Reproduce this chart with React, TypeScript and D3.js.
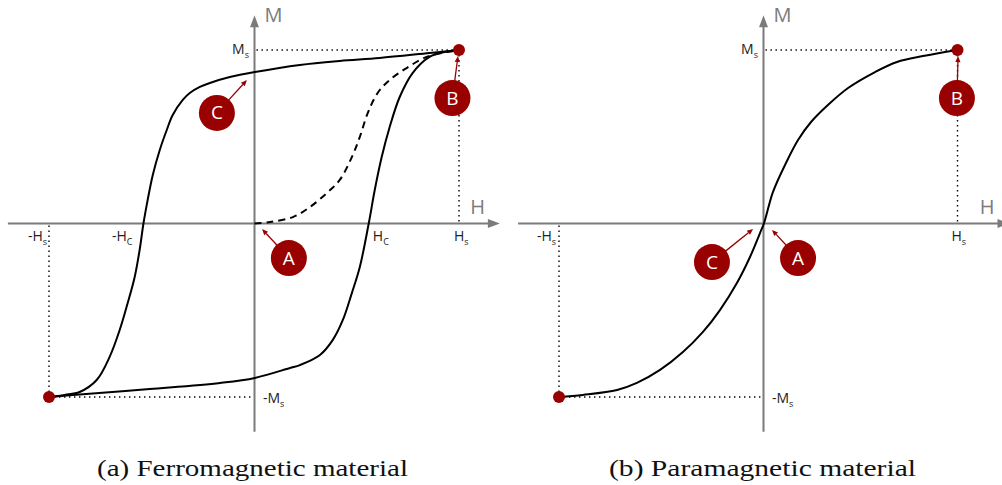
import React from "react";
import * as d3 from "d3";

// All curves in normalised units: h = H / Hs, m = M / Ms
type Pt = [number, number];

// Ferromagnetic hysteresis loop: descending branch (from +Hs to -Hs)
const ferroDescending: Pt[] = [
  [1, 1], [0.856, 0.983], [0.612, 0.954], [0.417, 0.937], [0.222, 0.914],
  [0.002, 0.873], [-0.12, 0.844], [-0.217, 0.81], [-0.266, 0.787],
  [-0.315, 0.752], [-0.349, 0.712], [-0.398, 0.625], [-0.427, 0.539],
  [-0.461, 0.424], [-0.495, 0.28], [-0.52, 0.135], [-0.54, 0.003],
  [-0.559, -0.153], [-0.583, -0.308], [-0.617, -0.458], [-0.656, -0.614],
  [-0.705, -0.769], [-0.768, -0.902], [-0.851, -0.971], [-0.924, -0.988],
  [-1, -1],
];

// Ascending branch (from -Hs to +Hs)
const ferroAscending: Pt[] = [
  [-1, -1], [-0.851, -0.986], [-0.51, -0.954], [-0.168, -0.919],
  [0.002, -0.89], [0.173, -0.833], [0.222, -0.816], [0.32, -0.758],
  [0.383, -0.671], [0.432, -0.556], [0.476, -0.401], [0.515, -0.251],
  [0.559, 0.003], [0.588, 0.193], [0.622, 0.383], [0.661, 0.556],
  [0.71, 0.729], [0.773, 0.867], [0.856, 0.96], [0.929, 0.988], [1, 1],
];

// Initial magnetisation curve from the demagnetised state
const ferroInitial: Pt[] = [
  [0, 0], [0.076, 0.009], [0.188, 0.037], [0.271, 0.095], [0.354, 0.176],
  [0.417, 0.251], [0.476, 0.383], [0.515, 0.499], [0.554, 0.637],
  [0.602, 0.752], [0.661, 0.827], [0.744, 0.896], [0.841, 0.96],
  [0.939, 0.988], [1, 1],
];

// Paramagnetic response (no hysteresis)
const paraCurve: Pt[] = [
  [-1, -1], [-0.883, -0.988], [-0.716, -0.96], [-0.619, -0.919],
  [-0.506, -0.844], [-0.394, -0.741], [-0.296, -0.625], [-0.213, -0.499],
  [-0.13, -0.343], [-0.066, -0.193], [-0.017, -0.055], [0.003, 0.003],
  [0.049, 0.182], [0.116, 0.349], [0.178, 0.481], [0.245, 0.585],
  [0.332, 0.683], [0.436, 0.781], [0.575, 0.873], [0.688, 0.931],
  [0.822, 0.965], [1, 1],
];

// Coercive field of the ferromagnet
const coercive = { neg: -0.54, pos: 0.559 };

// Lettered callouts: target point and bubble centre
type Callout = { letter: string; target: Pt; bubble: Pt };
const ferroCallouts: Callout[] = [
  { letter: "A", target: [0.037, -0.032], bubble: [0.168, -0.199] },
  { letter: "B", target: [0.995, 0.965], bubble: [0.968, 0.723] },
  { letter: "C", target: [-0.037, 0.827], bubble: [-0.183, 0.637] },
];
const paraCallouts: Callout[] = [
  { letter: "A", target: [0.044, -0.037], bubble: [0.178, -0.199] },
  { letter: "B", target: [1.003, 0.965], bubble: [0.997, 0.723] },
  { letter: "C", target: [-0.051, -0.032], bubble: [-0.252, -0.222] },
];

type TickLabel = { value: number; main: string; sub: string; dx: number; anchor: "start" | "end" };
const ferroHLabels: TickLabel[] = [
  { value: -1, main: "-H", sub: "s", dx: -2, anchor: "end" },
  { value: coercive.neg, main: "-H", sub: "C", dx: -11, anchor: "end" },
  { value: coercive.pos, main: "H", sub: "C", dx: 4, anchor: "start" },
  { value: 1, main: "H", sub: "s", dx: -5, anchor: "start" },
];
const paraHLabels: TickLabel[] = [
  { value: -1, main: "-H", sub: "s", dx: -3, anchor: "end" },
  { value: 1, main: "H", sub: "s", dx: -6, anchor: "start" },
];

const captions = ["(a) Ferromagnetic material", "(b) Paramagnetic material"];

const RED = "#990000";
const AXIS = "#7b7b7b";
const SANS = "'Open Sans', 'DejaVu Sans', sans-serif";

type Curve = { pts: Pt[]; dashed?: boolean };

type PanelProps = {
  hRange: [number, number, number];
  hAxis: [number, number];
  curves: Curve[];
  hLabels: TickLabel[];
  callouts: Callout[];
  caption: string;
  captionCenter: number;
  captionWidth: number;
};

const yScale = d3.scaleLinear().domain([-1, 1]).range([397, 50]);
const M_AXIS: [number, number] = [-1.2, 1.2];

function Panel(p: PanelProps) {
  const x = d3.scaleLinear().domain([-1, 0, 1]).range(p.hRange);
  const y = yScale;
  const line = d3
    .line<Pt>()
    .x((d) => x(d[0]))
    .y((d) => y(d[1]))
    .curve(d3.curveCatmullRom.alpha(0.5));

  const x0 = x(0);
  const y0 = y(0);
  const xL = x(p.hAxis[0]);
  const xR = x(p.hAxis[1]);
  const yB = y(M_AXIS[0]);
  const yT = y(M_AXIS[1]);
  const aLen = 12;
  const aHalf = 4.5;

  const xs = x(1);
  const xsn = x(-1);
  const ys = y(1);
  const ysn = y(-1);
  const dots = "1.4 3.6";

  return (
    <g>
      {/* guide lines to the saturation points */}
      <g stroke="#000" strokeWidth={1.4} strokeDasharray={dots} fill="none">
        <line x1={x0 + 2} y1={ys} x2={xs} y2={ys} />
        <line x1={xs} y1={ys} x2={xs} y2={y0 - 2} />
        <line x1={xsn} y1={y0 + 2} x2={xsn} y2={ysn} />
        <line x1={xsn} y1={ysn} x2={x0 - 2} y2={ysn} />
      </g>

      {/* axes */}
      <g>
        <line x1={xL} y1={y0} x2={xR - aLen + 1} y2={y0} stroke={AXIS} strokeWidth={2} />
        <polygon
          points={`${xR},${y0} ${xR - aLen},${y0 - aHalf} ${xR - aLen},${y0 + aHalf}`}
          fill={AXIS}
        />
        <line x1={x0} y1={yB} x2={x0} y2={yT + aLen - 1} stroke={AXIS} strokeWidth={2} />
        <polygon
          points={`${x0},${yT} ${x0 - aHalf},${yT + aLen} ${x0 + aHalf},${yT + aLen}`}
          fill={AXIS}
        />
        <text x={x0 + 10} y={yT + 7} fill={AXIS} fontFamily={SANS} fontSize={20}>
          M
        </text>
        <text x={xR - 15} y={y0 - 10} fill={AXIS} fontFamily={SANS} fontSize={20} textAnchor="end">
          H
        </text>
      </g>

      {/* tick labels */}
      <g fontFamily={SANS} fill="#222" fontSize={14}>
        {p.hLabels.map((t) => (
          <text key={t.main + t.sub + t.value} x={x(t.value) + t.dx} y={y0 + 17} textAnchor={t.anchor}>
            {t.main}
            <tspan fontSize={9} dy={4}>
              {t.sub}
            </tspan>
          </text>
        ))}
        <text x={x0 - 5.5} y={ys + 4} textAnchor="end">
          M<tspan fontSize={9} dy={4}>s</tspan>
        </text>
        <text x={x0 + 8.5} y={ysn + 6} textAnchor="start">
          -M<tspan fontSize={9} dy={4}>s</tspan>
        </text>
      </g>

      {/* magnetisation curves */}
      <g fill="none" stroke="#000" strokeWidth={2}>
        {p.curves.map((c, i) => (
          <path key={i} d={line(c.pts) ?? ""} strokeDasharray={c.dashed ? "7 5" : undefined} />
        ))}
      </g>

      {/* saturation points */}
      <circle cx={xs} cy={ys} r={6} fill={RED} />
      <circle cx={xsn} cy={ysn} r={6} fill={RED} />

      {/* callouts */}
      {p.callouts.map((c) => {
        const bx = x(c.bubble[0]);
        const by = y(c.bubble[1]);
        const tx = x(c.target[0]);
        const ty = y(c.target[1]);
        const dx = tx - bx;
        const dy = ty - by;
        const len = Math.hypot(dx, dy);
        const ux = dx / len;
        const uy = dy / len;
        const r = 18;
        const sx = bx + ux * (r - 1);
        const sy = by + uy * (r - 1);
        // small arrow head at the target
        const hl = 6;
        const hw = 2.6;
        const baseX = tx - ux * hl;
        const baseY = ty - uy * hl;
        const head = `${tx},${ty} ${baseX - uy * hw},${baseY + ux * hw} ${baseX + uy * hw},${baseY - ux * hw}`;
        return (
          <g key={c.letter}>
            <line x1={sx} y1={sy} x2={baseX} y2={baseY} stroke={RED} strokeWidth={1.3} />
            <polygon points={head} fill={RED} />
            <circle cx={bx} cy={by} r={r} fill={RED} />
            <text
              x={bx}
              y={by + 6.5}
              textAnchor="middle"
              fill="#fff"
              fontFamily={SANS}
              fontSize={19}
            >
              {c.letter}
            </text>
          </g>
        );
      })}

      {/* caption */}
      <text
        x={p.captionCenter}
        y={476}
        textAnchor="middle"
        fontFamily="'Liberation Serif', 'DejaVu Serif', serif"
        fontSize={23}
        fill="#111"
        textLength={p.captionWidth}
        lengthAdjust="spacingAndGlyphs"
      >
        {p.caption}
      </text>
    </g>
  );
}

export default function App() {
  return (
    <svg
      width={1002}
      height={485}
      viewBox="0 0 1002 485"
      style={{ position: "absolute", left: 0, top: 0, background: "#fff" }}
    >
      <rect width={1002} height={485} fill="#fff" />
      <Panel
        hRange={[49, 254.5, 459]}
        hAxis={[-1.2, 1.2]}
        curves={[
          { pts: ferroDescending },
          { pts: ferroAscending },
          { pts: ferroInitial, dashed: true },
        ]}
        hLabels={ferroHLabels}
        callouts={ferroCallouts}
        caption={captions[0]}
        captionCenter={252.5}
        captionWidth={311}
      />
      <Panel
        hRange={[559, 763.5, 957.5]}
        hAxis={[-1.2, 1.268]}
        curves={[{ pts: paraCurve }]}
        hLabels={paraHLabels}
        callouts={paraCallouts}
        caption={captions[1]}
        captionCenter={762.5}
        captionWidth={307}
      />
    </svg>
  );
}
